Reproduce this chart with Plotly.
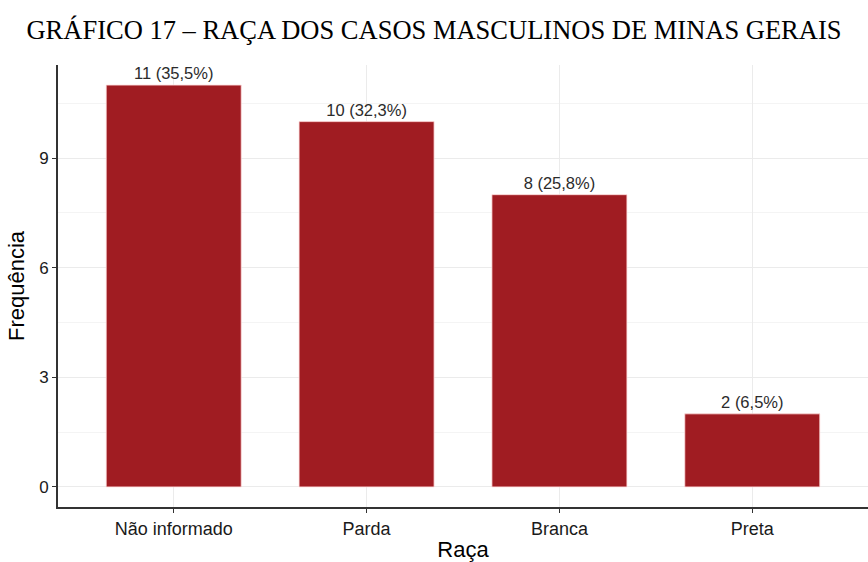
import plotly.graph_objects as go

categorias = ["Não informado", "Parda", "Branca", "Preta"]
frequencias = [11, 10, 8, 2]
rotulos = ["11 (35,5%)", "10 (32,3%)", "8 (25,8%)", "2 (6,5%)"]
y_ticks = [0, 3, 6, 9]

fig = go.Figure(go.Bar(
    x=categorias, y=frequencias, text=rotulos, textposition="outside",
    width=0.7, marker=dict(color="#A01C22", line=dict(color="rgba(255,220,220,0.8)", width=1)),
    textfont=dict(family="Liberation Sans, Arial", size=16.5, color="#2b2b2b"),
    cliponaxis=False,
))

fig.update_layout(
    width=868, height=562,
    margin=dict(l=58, r=0, t=65, b=55),
    plot_bgcolor="white", paper_bgcolor="white",
    showlegend=False,
    title=dict(text="GRÁFICO 17 – RAÇA DOS CASOS MASCULINOS DE MINAS GERAIS",
               font=dict(family="Liberation Serif, Times New Roman", size=26.5, color="black"),
               x=0.5, xanchor="center", yref="container", y=1 - 30/562, yanchor="middle"),
)
fig.update_xaxes(
    range=[-0.6, 3.6], showgrid=True, gridcolor="#ebebeb", gridwidth=1,
    showline=True, linecolor="#333333", linewidth=2,
    ticks="outside", ticklen=4, tickcolor="#333333",
    tickfont=dict(family="Liberation Sans, Arial", size=18, color="#1a1a1a"),
    title=dict(text="Raça", font=dict(family="Liberation Sans, Arial", size=22, color="black"), standoff=6),
    automargin=False,
)
fig.update_yaxes(
    range=[-0.55, 11.55], tickvals=y_ticks, showgrid=True, gridcolor="#ebebeb", gridwidth=1,
    minor=dict(tickvals=[1.5, 4.5, 7.5, 10.5], showgrid=True, gridcolor="#f4f4f4", gridwidth=1),
    zeroline=False,
    showline=True, linecolor="#333333", linewidth=2,
    ticks="outside", ticklen=4, tickcolor="#333333",
    tickfont=dict(family="Liberation Sans, Arial", size=17, color="#1a1a1a"),
    title=dict(text="Frequência", font=dict(family="Liberation Sans, Arial", size=22, color="black"), standoff=8),
    automargin=False,
)

fig.write_html("out.html", config={"displayModeBar": False},
               post_script="document.body.style.margin='0';")
